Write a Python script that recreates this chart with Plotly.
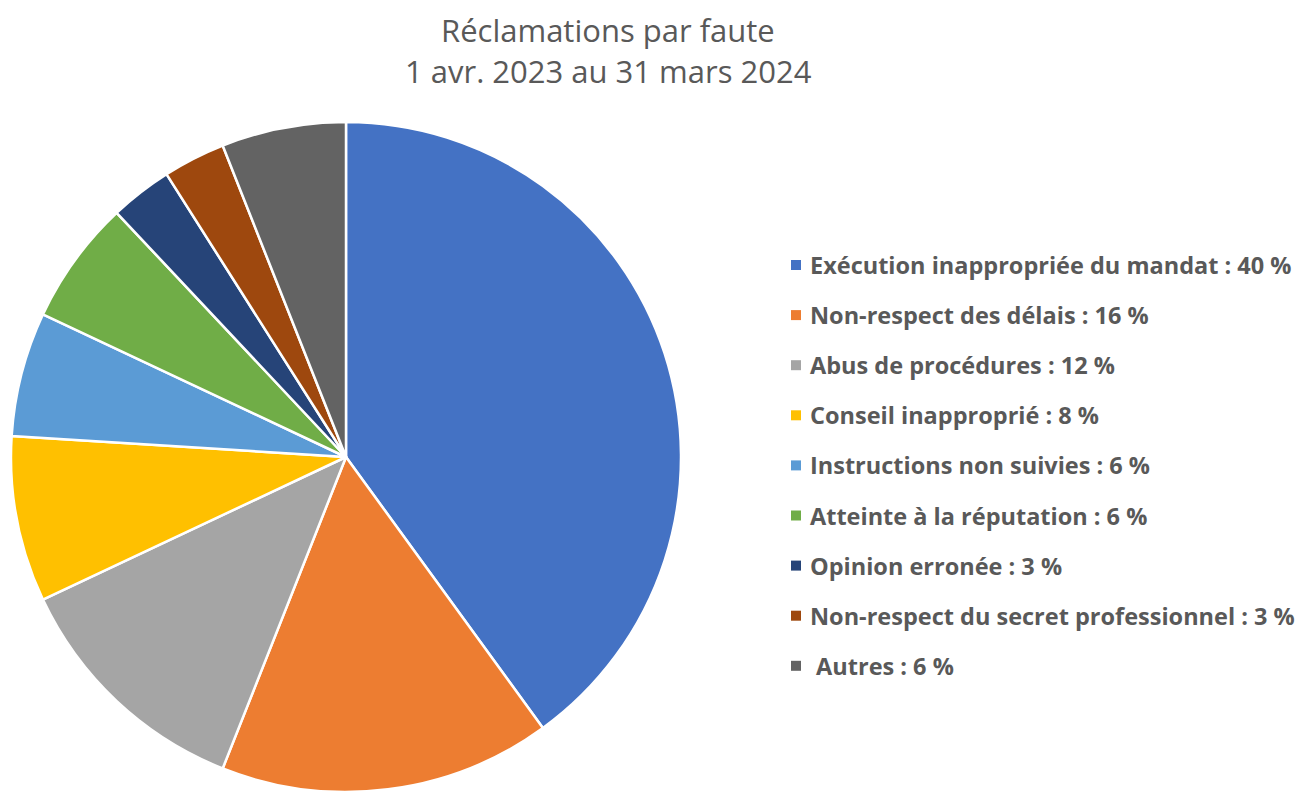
import plotly.graph_objects as go

categories = ["Exécution inappropriée du mandat", "Non-respect des délais", "Abus de procédures",
              "Conseil inapproprié", "Instructions non suivies", "Atteinte à la réputation",
              "Opinion erronée", "Non-respect du secret professionnel", " Autres"]
values = [40, 16, 12, 8, 6, 6, 3, 3, 6]
colors = ["#4472C4", "#ED7D31", "#A5A5A5", "#FFC000", "#5B9BD5", "#70AD47", "#264478", "#9E480E", "#636363"]
title_lines = ["Réclamations par faute", "1 avr. 2023 au 31 mars 2024"]

OFF = 8  # page body margin
W, H = 1309 - OFF, 792 - OFF
FONT = "Open Sans"
GREY = "#595959"


def px(x):
    return (x - OFF) / W


def py(y):
    return 1 - (y - OFF) / H


fig = go.Figure(go.Pie(
    labels=categories, values=values, sort=False, direction="clockwise", rotation=0,
    marker=dict(colors=colors, line=dict(color="white", width=2.5)),
    textinfo="none", hoverinfo="label+percent", showlegend=False,
    domain=dict(x=[px(11), px(681)], y=[0, py(122)]),
))

shapes, annotations = [], []
for i, (lab, val, col) in enumerate(zip(categories, values, colors)):
    yc = 265 + i * 50.1
    shapes.append(dict(type="rect", xref="paper", yref="paper",
                       x0=px(791), x1=px(801), y0=py(yc + 5), y1=py(yc - 5),
                       fillcolor=col, line=dict(width=0)))
    annotations.append(dict(text=f"<b>{lab} : {val} %</b>", xref="paper", yref="paper",
                            x=px(808), y=py(yc), xanchor="left", yanchor="middle",
                            showarrow=False, font=dict(family=FONT, size=23.5, color=GREY)))

for j, t in enumerate(title_lines):
    annotations.append(dict(text=t, xref="paper", yref="paper", x=px(608), y=py(30 + j * 41),
                            xanchor="center", yanchor="middle", showarrow=False,
                            font=dict(family=FONT, size=31, color=GREY)))

fig.update_layout(width=W, height=H, margin=dict(l=0, r=0, t=0, b=0),
                  paper_bgcolor="white", plot_bgcolor="white",
                  shapes=shapes, annotations=annotations)
fig.write_html("out.html")
